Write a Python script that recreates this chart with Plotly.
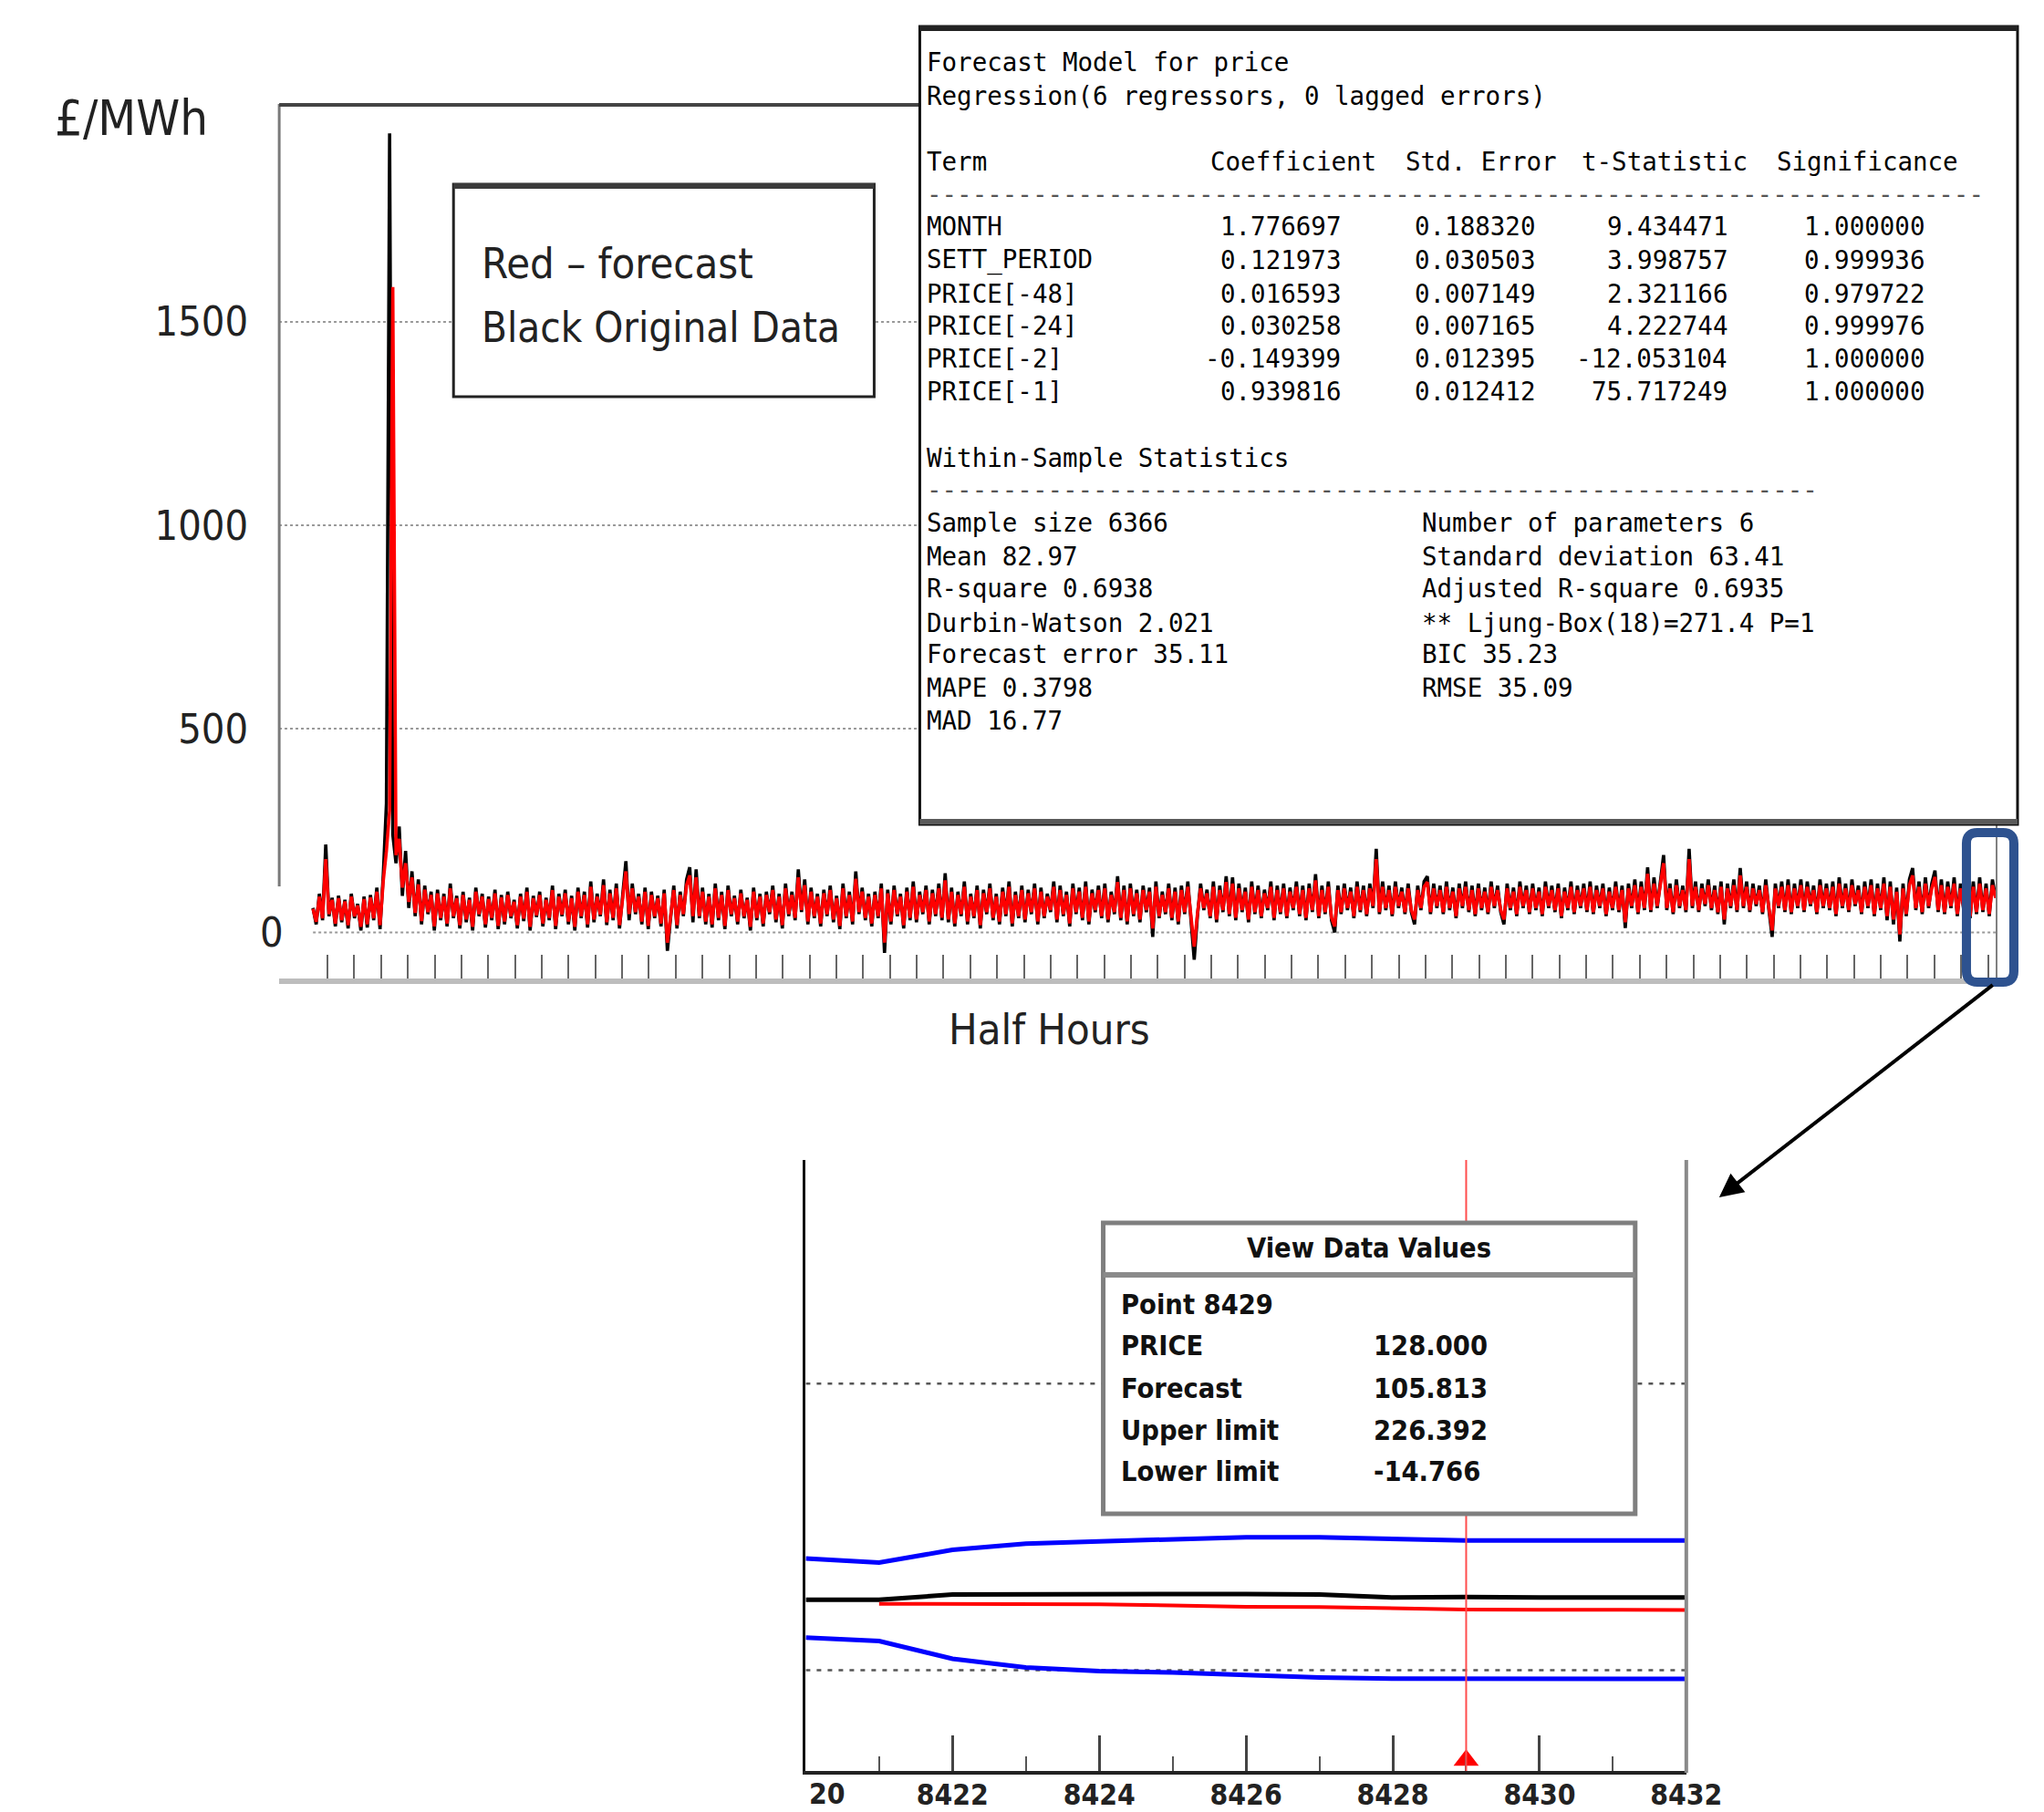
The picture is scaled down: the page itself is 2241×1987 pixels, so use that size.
import plotly.graph_objects as go

# reference canvas (all positions below are measured on this 2241 x 1987 canvas)
W, H = 2241, 1987
# rendering canvas (compensates for the horizontal scaling seen in the photographs)
FW, FH = 2282, 1987
KX, KY = FW / W, FH / H

# ---------------- main chart data (half-hour index, every 16th point) ----------------
half_hours = list(range(0, 8433, 16))

price_original = [
    60, 20, 95, 30, 216, 40, 85, 15, 90, 25, 80, 10, 95, 35, 70, 5,
    88, 12, 92, 30, 110, 8, 140, 317, 1962, 240, 170, 260, 90, 200, 60, 150,
    40, 130, 20, 115, 45, 100, 5, 105, 30, 95, 15, 120, 35, 90, 10, 100,
    25, 85, 5, 110, 40, 95, 12, 88, 30, 105, 8, 92, 20, 100, 35, 80,
    10, 95, 28, 110, 5, 90, 38, 100, 15, 85, 30, 115, 8, 95, 40, 105,
    20, 90, 5, 110, 35, 100, 12, 125, 25, 95, 40, 130, 18, 105, 30, 120,
    10, 100, 175, 30, 120, 45, 95, 20, 110, 8, 100, 35, 90, 15, 105, -45,
    30, 115, 10, 100, 40, 130, 160, 25, 155, 35, 110, 20, 95, 12, 120, 30,
    100, 8, 115, 40, 90, 20, 105, 35, 85, 5, 110, 30, 95, 15, 100, 45,
    115, 25, 95, 10, 120, 40, 100, 30, 155, 50, 130, 20, 110, 35, 95, 15,
    105, 40, 115, 25, 90, 8, 120, 35, 100, 20, 150, 45, 110, 30, 95, 15,
    100, 35, 120, -50, 105, 20, 115, 40, 95, 10, 110, 30, 125, 25, 100, 45,
    115, 20, 105, 40, 120, 30, 145, 25, 110, 15, 100, 40, 125, 20, 95, 35,
    115, 10, 105, 45, 120, 30, 95, 20, 110, 40, 125, 15, 100, 35, 115, 25,
    105, 45, 120, 20, 110, 35, 95, 50, 125, 25, 115, 40, 100, 15, 120, 45,
    110, 30, 125, 20, 105, 50, 115, 35, 120, 25, 100, 45, 138, 30, 115, 20,
    120, 40, 105, 25, 115, 50, 110, -11, 125, 35, 100, 45, 120, 30, 110, 20,
    115, 45, 125, 30, -67, 40, 120, 55, 105, 35, 125, 25, 115, 50, 138, 40,
    135, 30, 120, 50, 110, 25, 125, 45, 115, 35, 105, 55, 125, 30, 115, 45,
    120, 35, 110, 55, 125, 40, 115, 30, 120, 50, 143, 35, 115, 45, 125, 30,
    0, 115, 45, 120, 55, 110, 35, 125, 50, 115, 40, 120, 60, 205, 45, 125,
    55, 115, 40, 125, 60, 110, 45, 120, 50, 20, 115, 55, 125, 138, 45, 120,
    60, 115, 45, 125, 55, 110, 35, 120, 60, 125, 50, 115, 40, 120, 55, 110,
    45, 125, 60, 115, 50, 20, 120, 55, 110, 40, 125, 60, 115, 45, 120, 55,
    110, 40, 125, 60, 115, 50, 120, 35, 110, 55, 125, 45, 115, 60, 120, 50,
    125, 45, 115, 60, 120, 40, 110, 55, 125, 50, 115, 11, 120, 60, 130, 45,
    125, 55, 160, 50, 135, 60, 125, 190, 55, 120, 45, 130, 60, 115, 50, 205,
    60, 125, 50, 120, 65, 130, 55, 115, 45, 125, 20, 120, 60, 130, 50, 158,
    60, 125, 50, 120, 65, 115, 45, 130, 55, -11, 120, 60, 125, 50, 130, 45,
    120, 60, 130, 50, 125, 65, 115, 45, 130, 60, 120, 55, 125, 40, 135, 60,
    120, 50, 130, 65, 115, 45, 125, 60, 130, 40, 120, 55, 135, 30, 125, 20,
    110, -22, 120, 40, 130, 158, 55, 125, 45, 135, 60, 120, 152, 50, 130, 45,
    125, 60, 135, 40, 120, 55, 130, 35, 125, 45, 135, 50, 120, 40, 130, 85,
]

price_forecast = [
    58, 26, 88, 35, 180, 45, 80, 22, 84, 30, 76, 18, 88, 40, 66, 14,
    82, 20, 86, 35, 100, 18, 125, 200, 300, 1585, 190, 230, 110, 170, 75, 135,
    48, 118, 28, 105, 50, 92, 15, 96, 36, 88, 22, 108, 40, 84, 18, 92,
    32, 80, 14, 100, 45, 88, 20, 82, 36, 96, 16, 86, 27, 92, 40, 75,
    18, 88, 34, 100, 14, 84, 42, 92, 22, 80, 36, 104, 16, 88, 44, 96,
    27, 84, 14, 100, 40, 92, 20, 112, 32, 88, 44, 116, 25, 96, 36, 108,
    18, 92, 150, 45, 108, 50, 88, 27, 100, 16, 92, 40, 84, 22, 96, -25,
    36, 104, 18, 92, 45, 116, 140, 40, 135, 40, 100, 27, 88, 20, 108, 36,
    92, 16, 104, 45, 84, 27, 96, 40, 80, 14, 100, 36, 88, 22, 92, 50,
    104, 32, 88, 18, 108, 45, 92, 36, 135, 55, 116, 27, 100, 40, 88, 22,
    96, 45, 104, 32, 84, 16, 108, 40, 92, 27, 132, 50, 100, 36, 88, 22,
    92, 40, 108, -25, 96, 27, 104, 45, 88, 18, 100, 36, 112, 32, 92, 50,
    104, 27, 96, 45, 108, 36, 128, 32, 100, 22, 92, 45, 112, 27, 88, 40,
    104, 18, 96, 50, 108, 36, 88, 27, 100, 45, 112, 22, 92, 40, 104, 32,
    96, 50, 108, 27, 100, 40, 88, 55, 112, 32, 104, 45, 92, 22, 108, 50,
    100, 36, 112, 27, 96, 55, 104, 40, 108, 32, 92, 50, 124, 36, 104, 27,
    108, 45, 96, 32, 104, 55, 100, 10, 112, 40, 92, 50, 108, 36, 100, 27,
    104, 50, 112, 36, -35, 45, 108, 60, 96, 40, 112, 32, 104, 55, 124, 45,
    120, 36, 108, 55, 100, 32, 112, 50, 104, 40, 96, 60, 112, 36, 104, 50,
    108, 40, 100, 60, 112, 45, 104, 36, 108, 55, 128, 40, 104, 50, 112, 36,
    15, 104, 50, 108, 60, 100, 40, 112, 55, 104, 45, 108, 65, 180, 50, 112,
    60, 104, 45, 112, 65, 100, 50, 108, 55, 32, 104, 60, 112, 124, 50, 108,
    65, 104, 50, 112, 60, 100, 40, 108, 65, 112, 55, 104, 45, 108, 60, 100,
    50, 112, 65, 104, 55, 32, 108, 60, 100, 45, 112, 65, 104, 50, 108, 60,
    100, 45, 112, 65, 104, 55, 108, 40, 100, 60, 112, 50, 104, 65, 108, 55,
    112, 50, 104, 65, 108, 45, 100, 60, 112, 55, 104, 25, 108, 65, 116, 50,
    112, 60, 144, 55, 120, 65, 112, 170, 60, 108, 50, 116, 65, 104, 55, 180,
    65, 112, 55, 108, 70, 116, 60, 104, 50, 112, 32, 108, 65, 116, 55, 140,
    65, 112, 55, 108, 70, 104, 50, 116, 60, 5, 108, 65, 112, 55, 116, 50,
    108, 65, 116, 55, 112, 70, 104, 50, 116, 65, 108, 60, 112, 45, 120, 65,
    108, 55, 116, 70, 104, 50, 112, 65, 116, 45, 108, 60, 120, 40, 112, 32,
    100, -5, 108, 45, 116, 140, 60, 112, 50, 120, 65, 108, 136, 55, 116, 50,
    112, 65, 120, 45, 108, 60, 116, 40, 112, 50, 120, 55, 108, 45, 116, 85,
]

y_tick_vals = [500, 1000, 1500]
y_tick_text = ["500", "1000", "1500"]
x_tick_first, x_tick_step, x_tick_count = 73, 134.2, 63

# ---------------- zoomed inset data ----------------
inset_points = [8420, 8421, 8422, 8423, 8424, 8425, 8426, 8427, 8428, 8429, 8430, 8431, 8432]
inset_price = [123, 123, 132, 133, 133, 133, 133, 132, 127, 128, 127, 127, 127]
inset_forecast = [None, 116, 116, 115.5, 115, 113, 110.6, 110.5, 108, 105.813, 105.5, 105.4, 105.3]
inset_upper = [195, 188, 210, 221, 225, 229, 232, 232, 229, 226.392, 226.4, 226.4, 226.4]
inset_lower = [57, 51, 20, 5, -1.5, -3.7, -8, -12.5, -14.7, -14.766, -14.8, -14.8, -14.8]
inset_tick_vals = [8422, 8424, 8426, 8428, 8430, 8432]
selected_point = 8429

# ---------------- regression output ----------------
terms = ["MONTH", "SETT_PERIOD", "PRICE[-48]", "PRICE[-24]", "PRICE[-2]", "PRICE[-1]"]
coefficients = [1.776697, 0.121973, 0.016593, 0.030258, -0.149399, 0.939816]
std_errors = [0.188320, 0.030503, 0.007149, 0.007165, 0.012395, 0.012412]
t_statistics = [9.434471, 3.998757, 2.321166, 4.222744, -12.053104, 75.717249]
significances = [1.000000, 0.999936, 0.979722, 0.999976, 1.000000, 1.000000]
stats_left = ["Sample size 6366", "Mean 82.97", "R-square 0.6938", "Durbin-Watson 2.021",
              "Forecast error 35.11", "MAPE 0.3798", "MAD 16.77"]
stats_right = ["Number of parameters 6", "Standard deviation 63.41", "Adjusted R-square 0.6935",
               "** Ljung-Box(18)=271.4 P=1", "BIC 35.23", "RMSE 35.09"]

NARROW = "DejaVu Sans Condensed, Liberation Sans Narrow, Arial Narrow, sans-serif"
MONO = "DejaVu Sans Mono, Liberation Mono, monospace"


def px(x):
    return x / W


def py(y):
    return 1 - y / H


def fs(s):
    return round(s * KX, 1)


fig = go.Figure()

# main series
fig.add_trace(go.Scatter(x=half_hours, y=price_original, mode="lines",
                         line=dict(color="#000000", width=3.6), xaxis="x", yaxis="y",
                         hoverinfo="skip"))
fig.add_trace(go.Scatter(x=half_hours, y=price_forecast, mode="lines",
                         line=dict(color="#FF0000", width=3.6), xaxis="x", yaxis="y",
                         hoverinfo="skip"))

# inset series
fig.add_trace(go.Scatter(x=inset_points, y=inset_upper, mode="lines",
                         line=dict(color="#0000FF", width=5), xaxis="x2", yaxis="y2"))
fig.add_trace(go.Scatter(x=inset_points, y=inset_lower, mode="lines",
                         line=dict(color="#0000FF", width=5), xaxis="x2", yaxis="y2"))
fig.add_trace(go.Scatter(x=inset_points, y=inset_price, mode="lines",
                         line=dict(color="#000000", width=5), xaxis="x2", yaxis="y2"))
fig.add_trace(go.Scatter(x=inset_points, y=inset_forecast, mode="lines",
                         line=dict(color="#FF0000", width=4), xaxis="x2", yaxis="y2"))
fig.add_trace(go.Scatter(x=[selected_point], y=[-157], mode="markers",
                         marker=dict(symbol="triangle-up", size=24, color="#FF0000"),
                         xaxis="x2", yaxis="y2", cliponaxis=False))

# main axis geometry (reference pixels)
mx0, mx1 = 306, 2188
my_top, my_bot = 114, 1073
data_left, data_right = 343, 2187
ppi = (data_right - data_left) / 8432.0
x_lo = (mx0 - data_left) / ppi
x_hi = 8432 + (mx1 - data_right) / ppi
zero_px, ppu = 1022.5, 223.3 / 500.0
y_lo = -(my_bot - zero_px) / ppu
y_hi = (zero_px - my_top) / ppu

# inset geometry
ix0, ix1 = 883, 1848
iy_top, iy_bot = 1272, 1942
izero, ippu = 1831.6, 0.6286
iy_lo = -(iy_bot - izero) / ippu
iy_hi = (izero - iy_top) / ippu

x_tick_vals = [x_tick_first + k * x_tick_step for k in range(x_tick_count)]

fig.update_layout(
    width=FW, height=FH, margin=dict(l=0, r=0, t=0, b=0),
    paper_bgcolor="white", plot_bgcolor="rgba(0,0,0,0)", showlegend=False,
    xaxis=dict(domain=[px(mx0), px(mx1)], range=[x_lo, x_hi], anchor="y",
               showticklabels=False, ticks="inside", tickmode="array", tickvals=x_tick_vals,
               ticklen=26, tickwidth=2, tickcolor="#666666",
               showline=True, linecolor="#bdbdbd", linewidth=6,
               showgrid=False, zeroline=False),
    yaxis=dict(domain=[py(my_bot), py(my_top)], range=[y_lo, y_hi], anchor="x",
               tickvals=y_tick_vals, ticktext=y_tick_text,
               tickfont=dict(family=NARROW, size=fs(44), color="#222222"),
               ticks="", ticklabelstandoff=33,
               showgrid=True, gridcolor="#9a9a9a", griddash="dot", gridwidth=2,
               showline=False, zeroline=False),
    xaxis2=dict(domain=[px(ix0), px(ix1)], range=[8420, 8432], anchor="y2",
                tickvals=inset_tick_vals, ticktext=[str(v) for v in inset_tick_vals],
                tickfont=dict(family=NARROW, size=fs(31), color="#222222", weight="bold"),
                ticks="inside", ticklen=39, tickwidth=2.5, tickcolor="#444444",
                minor=dict(dtick=1, tick0=8420, ticks="inside", ticklen=16,
                           tickwidth=2, tickcolor="#555555"),
                ticklabelstandoff=-5,
                showline=True, linecolor="#222222", linewidth=4,
                showgrid=False, zeroline=False),
    yaxis2=dict(domain=[py(iy_bot), py(iy_top)], range=[iy_lo, iy_hi], anchor="x2",
                showticklabels=False, ticks="", showline=True, linecolor="#111111",
                linewidth=3, showgrid=False, zeroline=False),
)

shapes = []


def pline(x0, y0, x1, y1, color, width, layer="above", dash=None):
    d = dict(type="line", xref="paper", yref="paper", x0=px(x0), y0=py(y0),
             x1=px(x1), y1=py(y1), line=dict(color=color, width=width), layer=layer)
    if dash:
        d["line"]["dash"] = dash
    shapes.append(d)


def prect(x0, y0, x1, y1, color, width, fill="white"):
    shapes.append(dict(type="rect", xref="paper", yref="paper", x0=px(x0), y0=py(y1),
                       x1=px(x1), y1=py(y0), line=dict(color=color, width=width),
                       fillcolor=fill, layer="above"))


# zero dotted line over the data region
shapes.append(dict(type="line", xref="x", yref="y", x0=0, x1=8432, y0=0, y1=0,
                   line=dict(color="#999999", width=2, dash="dot"), layer="below"))
# y axis line, top frame line, right frame line
pline(306, 114, 306, 972, "#7a7a7a", 3)
pline(306, 115, 1008, 115, "#444444", 4)
pline(2188, 903, 2188, 1073, "#808080", 2)

# legend box
prect(497, 202, 958, 435, "#222222", 3)
pline(497, 204, 958, 204, "#3a3a3a", 6)

# stats box
prect(1008, 29, 2211, 904, "#111111", 3)
pline(1008, 31, 2211, 31, "#222222", 6)
pline(1008, 901, 2211, 901, "#5a5a5a", 6)


# blue rounded highlight box
def rounded_path(x0, y0, x1, y1, r):
    P = lambda x, y: f"{px(x):.6f},{py(y):.6f}"
    return (f"M {P(x0 + r, y0)} L {P(x1 - r, y0)} Q {P(x1, y0)} {P(x1, y0 + r)} "
            f"L {P(x1, y1 - r)} Q {P(x1, y1)} {P(x1 - r, y1)} "
            f"L {P(x0 + r, y1)} Q {P(x0, y1)} {P(x0, y1 - r)} "
            f"L {P(x0, y0 + r)} Q {P(x0, y0)} {P(x0 + r, y0)} Z")


shapes.append(dict(type="path", xref="paper", yref="paper",
                   path=rounded_path(2155, 913, 2207, 1077, 12),
                   line=dict(color="#2E528F", width=10), layer="above"))

# inset dotted reference lines at 0 and 500
for lvl in (0, 500):
    shapes.append(dict(type="line", xref="x2", yref="y2", x0=8420, x1=8432, y0=lvl, y1=lvl,
                       line=dict(color="#555555", width=2.5, dash="5px,7px"), layer="below"))
# selected point cursor
shapes.append(dict(type="line", xref="x2", yref="y2 domain", x0=selected_point,
                   x1=selected_point, y0=0, y1=1,
                   line=dict(color="#FF4D4D", width=2), layer="above"))
# inset right frame
pline(1848, 1272, 1848, 1944, "#8a8a8a", 4)

# tooltip box
prect(1209, 1341, 1792, 1660, "#7f7f7f", 5)
pline(1209, 1398, 1792, 1398, "#8a8a8a", 6)

fig.update_layout(shapes=shapes)

ann = []


def text(x, y, s, size, family=NARROW, anchor="left", color="#222222", weight="normal"):
    ann.append(dict(xref="paper", yref="paper", x=px(x), y=py(y), text=s, showarrow=False,
                    xanchor=anchor, yanchor="middle",
                    font=dict(family=family, size=fs(size), color=color, weight=weight)))


# axis titles and labels
text(144, 129, "£/MWh", 53, anchor="center")
text(1150, 1129, "Half Hours", 46, anchor="center")
text(298, 1022, "0", 44, anchor="center")
text(526, 289, "Red \u2013 forecast", 46)
text(526, 360, "Black Original Data", 44.5)

# regression output text
MS = 27
MC = "#000000"
text(1014, 68, "Forecast Model for price", MS, MONO, color=MC)
text(1014, 105, "Regression(6 regressors, 0 lagged errors)", MS, MONO, color=MC)
for hx, h in zip([1014, 1324, 1538, 1731, 1945],
                 ["Term", "Coefficient", "Std. Error", "t-Statistic", "Significance"]):
    text(hx, 177, h, MS, MONO, color=MC)
text(1014, 213, "-" * 70, MS, MONO, color="#555555")
row_y = [248, 285, 322, 357, 393, 429]
for i, ry in enumerate(row_y):
    text(1014, ry, terms[i], MS, MONO, color=MC)
    text(1471, ry, f"{coefficients[i]:.6f}", MS, MONO, anchor="right", color=MC)
    text(1684, ry, f"{std_errors[i]:.6f}", MS, MONO, anchor="right", color=MC)
    text(1895, ry, f"{t_statistics[i]:.6f}", MS, MONO, anchor="right", color=MC)
    text(2111, ry, f"{significances[i]:.6f}", MS, MONO, anchor="right", color=MC)
text(1014, 502, "Within-Sample Statistics", MS, MONO, color=MC)
text(1014, 537, "-" * 59, MS, MONO, color="#555555")
stat_y = [573, 610, 645, 683, 717, 754, 790]
for i, s in enumerate(stats_left):
    text(1014, stat_y[i], s, MS, MONO, color=MC)
for i, s in enumerate(stats_right):
    text(1556, stat_y[i], s, MS, MONO, color=MC)

# tooltip text
idx = inset_points.index(selected_point)
text(1500, 1368, "View Data Values", 30, anchor="center", color="#111111", weight="bold")
tip_rows = [("Point %d" % selected_point, None),
            ("PRICE", inset_price[idx]),
            ("Forecast", inset_forecast[idx]),
            ("Upper limit", inset_upper[idx]),
            ("Lower limit", inset_lower[idx])]
for (lab, val), ty in zip(tip_rows, [1430, 1475, 1522, 1568, 1613]):
    text(1226, ty, lab, 30, color="#111111", weight="bold")
    if val is not None:
        text(1503, ty, f"{val:.3f}", 30, color="#111111", weight="bold")

# clipped first tick label of the inset
text(885, 1967, "20", 31, color="#222222", weight="bold")

# arrow from highlight box to the inset
ann.append(dict(xref="paper", yref="paper", x=px(1884), y=py(1313), text="",
                showarrow=True, ax=296 * KX, ay=-234 * KY, arrowhead=2, arrowsize=1.3,
                arrowwidth=4, arrowcolor="#000000", standoff=0))

fig.update_layout(annotations=ann)

fig.write_html(
    "out.html",
    config={"displayModeBar": False, "responsive": False},
    post_script=("document.body.style.margin='0px';"
                 "document.body.style.overflow='hidden';"
                 "document.documentElement.style.overflow='hidden';"),
)
